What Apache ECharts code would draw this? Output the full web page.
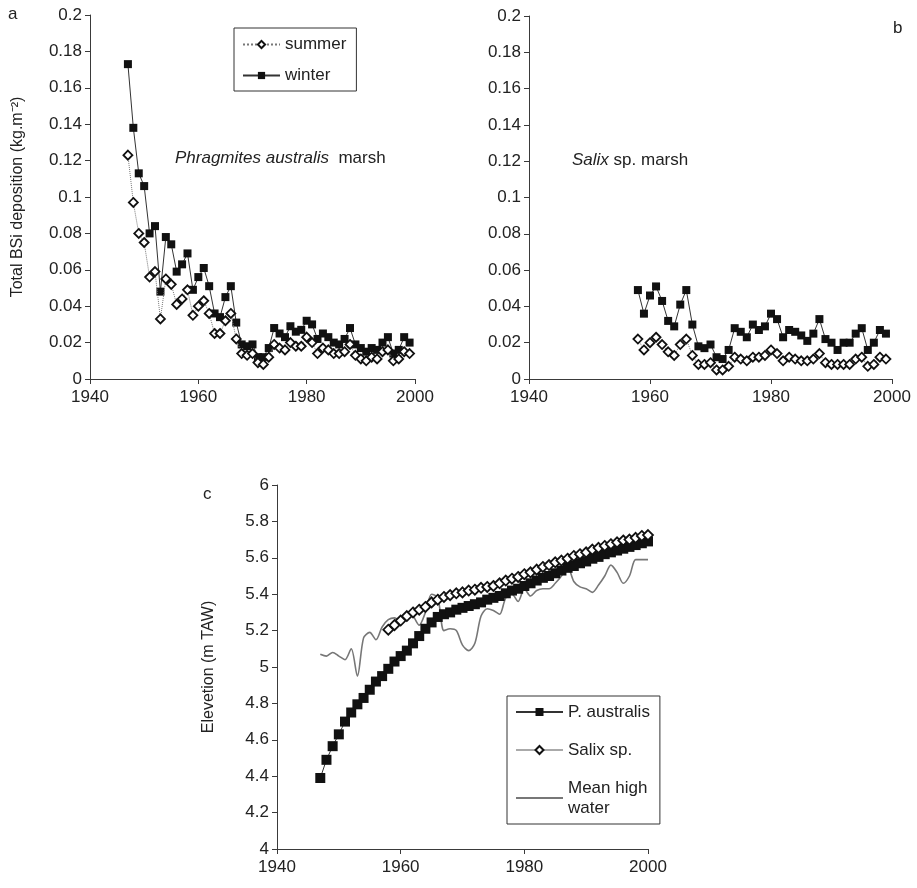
<!DOCTYPE html>
<html>
<head>
<meta charset="utf-8">
<script src="https://cdn.jsdelivr.net/npm/echarts@6/dist/echarts.min.js"></script>
<style>
  html, body { margin: 0; padding: 0; background: #fff; }
  #chart { width: 917px; height: 888px; }
</style>
</head>
<body>
<div id="chart"></div>
<script>
// Biogenic silica deposition (kg.m-2) in two marsh types, and marsh elevation
const firstYearPhragmites = 1947;
const winterPhragmites = [0.173, 0.138, 0.113, 0.106, 0.080, 0.084, 0.048, 0.078, 0.074, 0.059,
  0.063, 0.069, 0.049, 0.056, 0.061, 0.051, 0.036, 0.034, 0.045, 0.051,
  0.031, 0.019, 0.018, 0.019, 0.012, 0.012, 0.017, 0.028, 0.025, 0.023,
  0.029, 0.026, 0.027, 0.032, 0.030, 0.022, 0.025, 0.023, 0.020, 0.019,
  0.022, 0.028, 0.019, 0.017, 0.015, 0.017, 0.016, 0.020, 0.023, 0.014,
  0.016, 0.023, 0.020];
const summerPhragmites = [0.123, 0.097, 0.080, 0.075, 0.056, 0.059, 0.033, 0.055, 0.052, 0.041,
  0.044, 0.049, 0.035, 0.040, 0.043, 0.036, 0.025, 0.025, 0.032, 0.036,
  0.022, 0.014, 0.013, 0.014, 0.009, 0.008, 0.012, 0.019, 0.017, 0.016,
  0.020, 0.018, 0.018, 0.023, 0.020, 0.014, 0.017, 0.016, 0.014, 0.014,
  0.015, 0.019, 0.013, 0.011, 0.010, 0.012, 0.011, 0.015, 0.016, 0.010,
  0.011, 0.015, 0.014];

const firstYearSalix = 1958;
const winterSalix = [0.049, 0.036, 0.046, 0.051, 0.043, 0.032, 0.029, 0.041, 0.049, 0.030,
  0.018, 0.017, 0.019, 0.012, 0.011, 0.016, 0.028, 0.026, 0.023, 0.030,
  0.027, 0.029, 0.036, 0.033, 0.023, 0.027, 0.026, 0.024, 0.021, 0.025,
  0.033, 0.022, 0.020, 0.016, 0.020, 0.020, 0.025, 0.028, 0.016, 0.020,
  0.027, 0.025];
const summerSalix = [0.022, 0.016, 0.020, 0.023, 0.019, 0.015, 0.013, 0.019, 0.022, 0.013,
  0.008, 0.008, 0.009, 0.005, 0.005, 0.007, 0.012, 0.011, 0.010, 0.012,
  0.012, 0.013, 0.016, 0.014, 0.010, 0.012, 0.011, 0.010, 0.010, 0.011,
  0.014, 0.009, 0.008, 0.008, 0.008, 0.008, 0.011, 0.012, 0.007, 0.008,
  0.012, 0.011];

// Elevation (m TAW)
const firstYearElevP = 1947;
const elevPhragmites = [4.39, 4.49, 4.565, 4.63, 4.70, 4.75, 4.795, 4.83, 4.875, 4.92,
  4.95, 4.99, 5.03, 5.06, 5.09, 5.13, 5.17, 5.21, 5.245, 5.275,
  5.29, 5.30, 5.315, 5.325, 5.335, 5.345, 5.355, 5.37, 5.38, 5.39,
  5.405, 5.42, 5.43, 5.445, 5.46, 5.475, 5.49, 5.50, 5.515, 5.53,
  5.545, 5.555, 5.57, 5.58, 5.595, 5.605, 5.62, 5.63, 5.64, 5.65,
  5.66, 5.67, 5.68, 5.69];
const firstYearElevS = 1958;
const elevSalix = [5.205, 5.23, 5.255, 5.28, 5.30, 5.315, 5.33, 5.355, 5.37, 5.385,
  5.395, 5.405, 5.41, 5.42, 5.425, 5.435, 5.44, 5.445, 5.46, 5.475,
  5.485, 5.495, 5.51, 5.52, 5.535, 5.55, 5.56, 5.575, 5.585, 5.595,
  5.61, 5.62, 5.63, 5.645, 5.655, 5.665, 5.675, 5.685, 5.695, 5.70,
  5.71, 5.72, 5.725];
const firstYearMHW = 1947;
const meanHighWater = [5.07, 5.06, 5.08, 5.06, 5.04, 5.10, 4.95, 5.16, 5.19, 5.15,
  5.22, 5.26, 5.27, 5.25, 5.30, 5.28, 5.23, 5.30, 5.40, 5.38,
  5.20, 5.21, 5.20, 5.12, 5.09, 5.13, 5.28, 5.32, 5.31, 5.29,
  5.38, 5.40, 5.36, 5.43, 5.39, 5.42, 5.43, 5.43, 5.46, 5.50,
  5.55, 5.47, 5.44, 5.43, 5.41, 5.45, 5.50, 5.56, 5.52, 5.46,
  5.50, 5.59, 5.59, 5.59];

const yearTicks = [1940, 1960, 1980, 2000];

function pairs(startYear, values) {
  return values.map((v, i) => [startYear + i, v]);
}

const FONT = '"Liberation Sans", Arial, sans-serif';
const AXIS_COLOR = '#3a3a3a';
const TEXT_COLOR = '#222';

function xAxisFor(gridIndex) {
  return {
    type: 'value', gridIndex, min: yearTicks[0], max: yearTicks[yearTicks.length - 1], interval: 20,
    splitLine: { show: false },
    axisLine: { show: true, lineStyle: { color: AXIS_COLOR, width: 1 } },
    axisTick: { show: true, inside: false, length: 5, lineStyle: { color: AXIS_COLOR } },
    axisLabel: { color: TEXT_COLOR, fontFamily: FONT, fontSize: 17, margin: 10, formatter: v => String(v) }
  };
}
function yAxisFor(gridIndex, min, max, interval, digits, name, nameGap) {
  return {
    type: 'value', gridIndex, min, max, interval,
    name, nameLocation: 'middle', nameGap,
    nameTextStyle: { color: TEXT_COLOR, fontFamily: FONT, fontSize: 16 },
    splitLine: { show: false },
    axisLine: { show: true, onZero: false, lineStyle: { color: AXIS_COLOR, width: 1 } },
    axisTick: { show: true, inside: false, length: 5, lineStyle: { color: AXIS_COLOR } },
    axisLabel: {
      color: TEXT_COLOR, fontFamily: FONT, fontSize: 17, margin: 8,
      formatter: v => String(parseFloat(v.toFixed(digits)))
    }
  };
}

const winterStyle = (xi, data, name) => ({
  name, type: 'line', xAxisIndex: xi, yAxisIndex: xi, data,
  symbol: 'rect', symbolSize: 8,
  itemStyle: { color: '#111', borderColor: '#111', borderWidth: 0 },
  lineStyle: { color: '#333', width: 1 },
  emphasis: { disabled: true }, z: 3
});
const summerStyle = (xi, data, name) => ({
  name, type: 'line', xAxisIndex: xi, yAxisIndex: xi, data,
  symbol: 'diamond', symbolSize: 9,
  itemStyle: { color: '#fff', borderColor: '#111', borderWidth: 1.8 },
  lineStyle: { color: '#777', width: 1, type: 'dotted' },
  emphasis: { disabled: true }, z: 4
});

const chart = echarts.init(document.getElementById('chart'), null, { renderer: 'canvas' });
chart.setOption({
  backgroundColor: '#fff',
  animation: false,
  textStyle: { fontFamily: FONT },
  grid: [
    { left: 90, right: 502, top: 15, bottom: 509 },
    { left: 529, right: 25, top: 16, bottom: 509 },
    { left: 277, right: 269, top: 485, bottom: 39 }
  ],
  xAxis: [xAxisFor(0), xAxisFor(1), xAxisFor(2)],
  yAxis: [
    yAxisFor(0, 0, 0.2, 0.02, 2, 'Total BSi deposition (kg.m\u207B\u00B2)', 64),
    yAxisFor(1, 0, 0.2, 0.02, 2, '', 0),
    yAxisFor(2, 4, 6, 0.2, 1, 'Elevetion (m TAW)', 60)
  ],
  legend: [
    {
      left: 234, top: 28, orient: 'vertical',
      data: ['summer', 'winter'],
      itemWidth: 37, itemHeight: 9, itemGap: 14,
      borderColor: '#333', borderWidth: 1, padding: [8, 10, 7, 8],
      textStyle: { color: TEXT_COLOR, fontFamily: FONT, fontSize: 17 },
      selectedMode: false
    },
    {
      left: 507, top: 696, orient: 'vertical',
      data: [
        'P. australis',
        'Salix sp.',
        { name: 'Mean high\nwater', itemStyle: { color: 'transparent', borderColor: 'transparent', borderWidth: 0 } }
      ],
      itemWidth: 47, itemHeight: 10, itemGap: 18,
      borderColor: '#333', borderWidth: 1, padding: [6, 10, 6, 8],
      textStyle: { color: TEXT_COLOR, fontFamily: FONT, fontSize: 17, lineHeight: 20 },
      selectedMode: false
    }
  ],
  graphic: [
    { type: 'text', left: 8, top: 6, style: { text: 'a', fontSize: 17, fontFamily: FONT, fill: TEXT_COLOR } },
    { type: 'text', left: 893, top: 20, style: { text: 'b', fontSize: 17, fontFamily: FONT, fill: TEXT_COLOR } },
    { type: 'text', left: 203, top: 486, style: { text: 'c', fontSize: 17, fontFamily: FONT, fill: TEXT_COLOR } },
    {
      type: 'text', left: 175, top: 150,
      style: {
        text: '{i|Phragmites australis}  marsh',
        fontSize: 17, fontFamily: FONT, fill: TEXT_COLOR,
        rich: { i: { fontStyle: 'italic', fontSize: 17, fontFamily: FONT, fill: TEXT_COLOR } }
      }
    },
    {
      type: 'text', left: 572, top: 152,
      style: {
        text: '{i|Salix} sp. marsh',
        fontSize: 17, fontFamily: FONT, fill: TEXT_COLOR,
        rich: { i: { fontStyle: 'italic', fontSize: 17, fontFamily: FONT, fill: TEXT_COLOR } }
      }
    }
  ],
  series: [
    summerStyle(0, pairs(firstYearPhragmites, summerPhragmites), 'summer'),
    winterStyle(0, pairs(firstYearPhragmites, winterPhragmites), 'winter'),
    summerStyle(1, pairs(firstYearSalix, summerSalix), 'summer'),
    winterStyle(1, pairs(firstYearSalix, winterSalix), 'winter'),
    {
      name: 'Mean high\nwater', type: 'line', xAxisIndex: 2, yAxisIndex: 2,
      data: pairs(firstYearMHW, meanHighWater), symbol: 'none', smooth: 0.3,
      itemStyle: { color: '#777' },
      lineStyle: { color: '#777', width: 1.6 }, z: 2, emphasis: { disabled: true }
    },
    {
      name: 'P. australis', type: 'line', xAxisIndex: 2, yAxisIndex: 2,
      data: pairs(firstYearElevP, elevPhragmites),
      symbol: 'rect', symbolSize: 10,
      itemStyle: { color: '#111', borderWidth: 0 },
      lineStyle: { color: '#333', width: 1 }, z: 3, emphasis: { disabled: true }
    },
    {
      name: 'Salix sp.', type: 'line', xAxisIndex: 2, yAxisIndex: 2,
      data: pairs(firstYearElevS, elevSalix),
      symbol: 'diamond', symbolSize: 10,
      itemStyle: { color: '#fff', borderColor: '#111', borderWidth: 1.8 },
      lineStyle: { color: '#aaa', width: 1 }, z: 4, emphasis: { disabled: true }
    }
  ]
});
</script>
</body>
</html>
